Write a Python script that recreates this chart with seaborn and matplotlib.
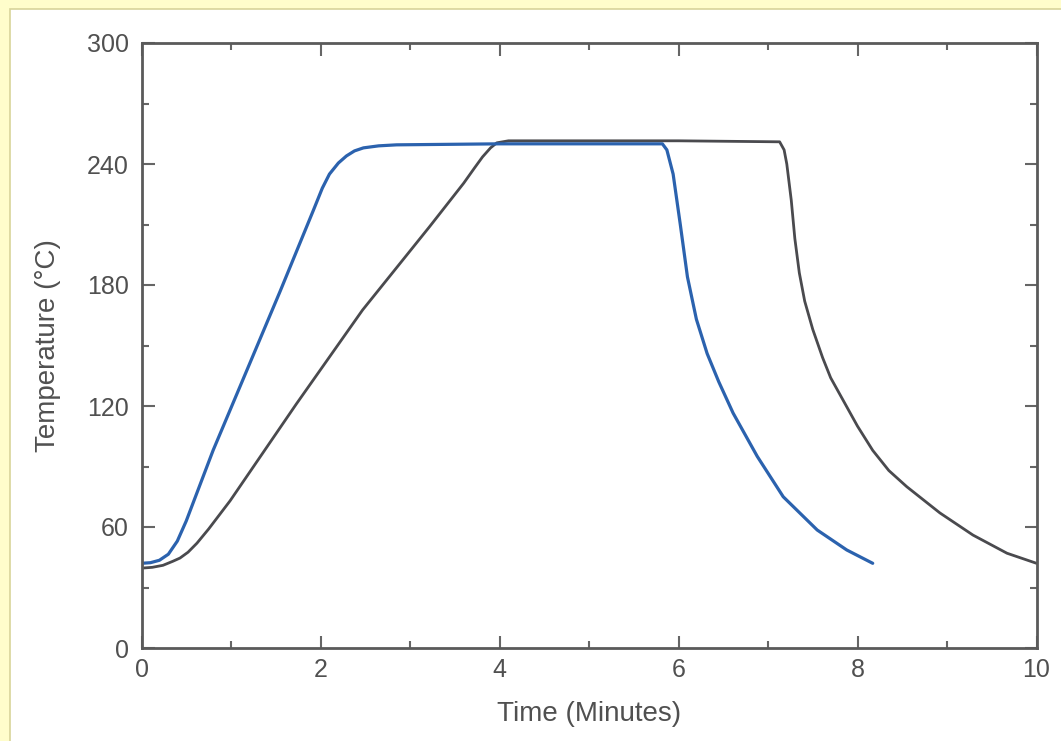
import matplotlib
matplotlib.use("Agg")
import matplotlib.pyplot as plt
import matplotlib.patches as mpatches
from matplotlib.ticker import MultipleLocator
import seaborn as sns
import pandas as pd

# Data
blue_time = [0.0, 0.1, 0.2, 0.3, 0.4, 0.5, 0.8, 1.18, 1.55, 1.92, 2.02, 2.1, 2.2, 2.29, 2.38,
             2.48, 2.65, 2.85, 4.0, 5.0, 5.82, 5.87, 5.94, 6.02, 6.1, 6.2, 6.32, 6.45, 6.61, 6.88,
             7.17, 7.55, 7.88, 8.17]
blue_temp = [42, 42.3, 43.5, 46.5, 53, 63, 98, 138, 177, 217, 228, 235, 240.5, 244, 246.5,
             248, 249, 249.5, 250, 250, 250, 247, 235, 210, 184, 163, 146, 132, 116.5, 95,
             75, 58.5, 48.6, 42]

black_time = [0.0, 0.12, 0.24, 0.35, 0.43, 0.52, 0.62, 0.75, 0.99, 1.73, 2.47, 3.22, 3.6, 3.72,
              3.81, 3.9, 3.97, 4.1, 5.0, 6.0, 7.13, 7.18, 7.21, 7.26, 7.30, 7.35, 7.41, 7.50,
              7.61, 7.70, 7.80, 8.0, 8.17, 8.35, 8.55, 8.92, 9.29, 9.67, 10.0]
black_temp = [39.6, 40, 41, 43, 44.6, 47.5, 52, 59, 73, 121, 167.6, 209, 230.5, 238,
              243.5, 248, 250.5, 251.5, 251.5, 251.5, 251, 247, 240, 222, 203, 186, 172, 158,
              144, 134, 126, 110, 98, 88, 80, 67, 56, 47, 42]

x_ticks = [0, 2, 4, 6, 8, 10]
y_ticks = [0, 60, 120, 180, 240, 300]
x_label = "Time (Minutes)"
y_label = "Temperature (°C)"

sns.set_theme(style="ticks")
plt.rcParams['font.family'] = ['Liberation Sans', 'DejaVu Sans']

fig = plt.figure(figsize=(10.61, 7.41), dpi=100)
fig.patch.set_facecolor('#FFFDCB')
panel = mpatches.Rectangle((9.5 / 1061, -0.01), 1.0, 1.01 - 8.5 / 741,
                           transform=fig.transFigure, facecolor='white',
                           edgecolor='#D8D49A', linewidth=1.2, zorder=-10)
fig.patches.append(panel)

ax = fig.add_axes([141.5 / 1061, 1 - 648 / 741, (1036.5 - 141.5) / 1061, (648 - 43) / 741])
ax.set_facecolor('white')
ax.set_zorder(1)

df_blue = pd.DataFrame({"t": blue_time, "T": blue_temp})
df_black = pd.DataFrame({"t": black_time, "T": black_temp})

sns.lineplot(data=df_black, x="t", y="T", ax=ax, color='#4A4A4E', linewidth=2.0,
             sort=False, estimator=None)
sns.lineplot(data=df_blue, x="t", y="T", ax=ax, color='#2B62AE', linewidth=2.3,
             sort=False, estimator=None)
for ln in ax.lines:
    ln.set_solid_joinstyle('round')
    ln.set_solid_capstyle('round')

ax.set_xlim(0, 10)
ax.set_ylim(0, 300)
ax.set_xticks(x_ticks)
ax.set_yticks(y_ticks)
ax.xaxis.set_minor_locator(MultipleLocator(1))
ax.yaxis.set_minor_locator(MultipleLocator(30))
ax.tick_params(which='both', direction='in', top=True, right=True, colors='#666666',
               labelcolor='#505050', labelsize=18, width=1.5)
ax.tick_params(which='major', length=9)
ax.tick_params(which='minor', length=5)
ax.tick_params(axis='x', which='major', pad=7)
ax.tick_params(axis='y', which='major', pad=9)
for s in ax.spines.values():
    s.set_color('#5A5A5A')
    s.set_linewidth(2.0)
    s.set_visible(True)

ax.set_xlabel(x_label, fontsize=20, color='#505050', labelpad=14)
ax.set_ylabel(y_label, fontsize=20, color='#505050', labelpad=19)

fig.savefig("out.png", dpi=100, facecolor=fig.get_facecolor())
